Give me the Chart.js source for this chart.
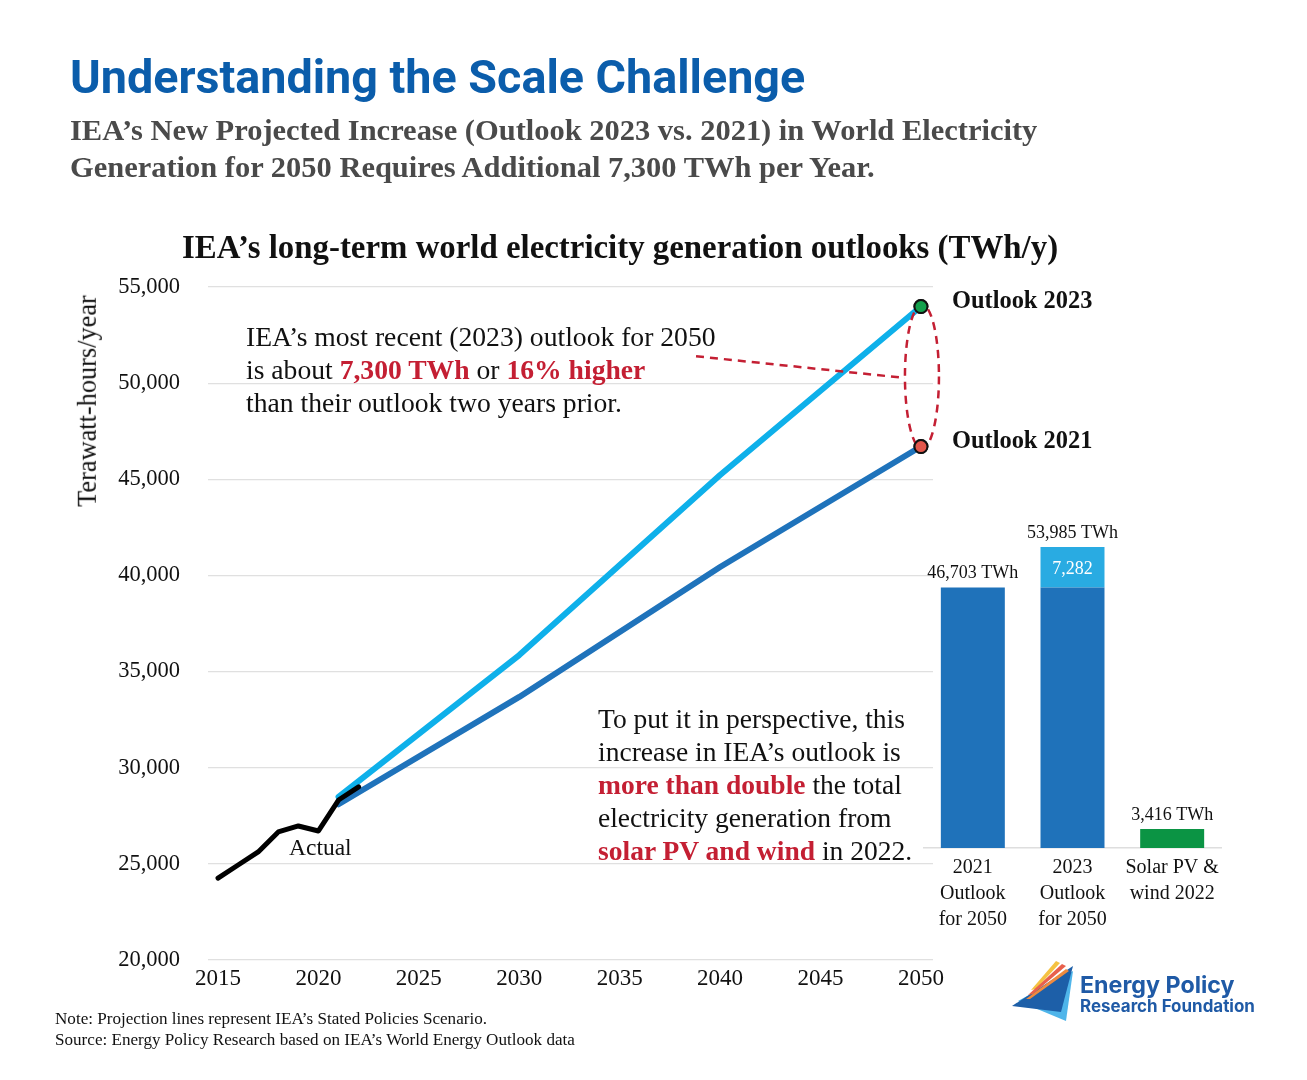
<!DOCTYPE html>
<html>
<head>
<meta charset="utf-8">
<script src="https://cdn.jsdelivr.net/npm/chart.js@4.4.0/dist/chart.umd.min.js"></script>
<style>
html,body{margin:0;padding:0;background:#fff;}
#wrap{position:relative;width:1307px;height:1080px;overflow:hidden;font-family:"Liberation Serif",serif;color:#111;}
#main{position:absolute;left:0;top:0;width:1307px;height:1080px;}
#bars{position:absolute;left:923px;top:480px;width:299px;height:470px;}
.t{position:absolute;white-space:nowrap;}
.red{color:#c41f33;font-weight:bold;}
#title{font-family:Roboto,sans-serif;font-weight:bold;color:#0b5dab;font-size:42px;line-height:50px;}
#subtitle{font-weight:bold;color:#4a4a4a;font-size:30px;line-height:37px;}
#ctitle{font-weight:bold;font-size:29px;line-height:34px;}
#ytitle{font-size:21px;line-height:24px;transform:rotate(-90deg);}
.note{font-size:25px;line-height:33px;}
.lbl{font-weight:bold;font-size:22px;line-height:26px;}
#foot{font-size:15px;line-height:21px;}
.logo{font-family:Inter,sans-serif;font-weight:bold;color:#1f5aa6;}
</style>
</head>
<body>
<div id="wrap">
  <canvas id="main" width="1307" height="1080"></canvas>
  <canvas id="bars" width="299" height="470"></canvas>

  <div class="t" id="title" data-x="70" data-cy="77" data-w="735">Understanding the Scale Challenge</div>
  <div class="t" id="subtitle" data-x="70" data-cy="130" data-w="967">IEA’s New Projected Increase (Outlook 2023 vs. 2021) in World Electricity<br>Generation for 2050 Requires Additional 7,300 TWh per Year.</div>
  <div class="t" id="ctitle" data-cx="620" data-cy="247" data-w="876">IEA’s long-term world electricity generation outlooks (TWh/y)</div>
  <div class="t" id="ytitle" data-cx="88" data-cy="401" data-w="212">Terawatt-hours/year</div>

  <div class="t note" data-x="246" data-cy="336" data-w="470">IEA’s most recent (2023) outlook for 2050<br>is about <span class="red">7,300 TWh</span> or <span class="red">16% higher</span><br>than their outlook two years prior.</div>
  <div class="t note" data-x="598" data-cy="718" data-w="314">To put it in perspective, this<br>increase in IEA’s outlook is<br><span class="red">more than double</span> the total<br>electricity generation from<br><span class="red">solar PV and wind</span> in 2022.</div>
  <div class="t" style="font-size:22px;line-height:26px" data-x="289" data-cy="847" data-w="63">Actual</div>
  <div class="t lbl" data-x="952" data-cy="300" data-w="141">Outlook 2023</div>
  <div class="t lbl" data-x="952" data-cy="440" data-w="141">Outlook 2021</div>

  <div class="t" id="foot" data-x="55" data-cy="1018" data-w="520">Note: Projection lines represent IEA’s Stated Policies Scenario.<br>Source: Energy Policy Research based on IEA’s World Energy Outlook data</div>

  <svg style="position:absolute;left:0;top:0" width="1307" height="1080">
    <polygon points="1018,1001 1073,971 1066,1021" fill="#4fb5ea"/>
    <polygon points="1012,1006 1073,966 1061,1012" fill="#1d5fa8"/>
    <polygon points="1031,990 1056,961 1060,963 1036,989" fill="#f5c242"/>
    <polygon points="1028,995 1062,964 1066,966 1033,994" fill="#e8604c"/>
    <polygon points="1026,999 1066,969 1069,971 1030,999" fill="#ef8a3e"/>
  </svg>
  <div class="t logo" style="font-size:21px;line-height:24px" data-x="1080" data-cy="985" data-w="155">Energy Policy</div>
  <div class="t logo" style="font-size:16px;line-height:20px" data-x="1080" data-cy="1006" data-w="175">Research Foundation</div>
</div>

<script>
// actual generation
const actualYears = [2015, 2016, 2017, 2018, 2019, 2020, 2021, 2022];
const actualTWh = [24260, 24940, 25620, 26660, 26970, 26710, 28320, 29000];

// IEA outlooks (Stated Policies)
const outlookYears = [2021, 2030, 2040, 2050];
const outlook2023 = [28480, 35860, 45220, 53985];
const outlook2021 = [28100, 33680, 40440, 46703];

const xTicks = [2015, 2020, 2025, 2030, 2035, 2040, 2045, 2050];
const yTicks = [20000, 25000, 30000, 35000, 40000, 45000, 50000, 55000];

// bar panel
const barLabels = [['2021', 'Outlook', 'for 2050'], ['2023', 'Outlook', 'for 2050'], ['Solar PV &', 'wind 2022']];
const barBase = [46703, 46703, 3416];
const barExtra = [0, 7282, 0];
const barTotals = [46703, 53985, 3416];

const RED = '#c41f33';
const serif = '"Liberation Serif", serif';
const fmt = v => v.toLocaleString('en-US');
const pts = (xs, ys) => xs.map((x, i) => ({x: x, y: ys[i]}));
const lastOnly = (r) => (c) => c.dataIndex === outlookYears.length - 1 ? r : 0;

// ellipse + leader line round the 2050 end points
const gapMark = {
  id: 'gapMark',
  afterDatasetsDraw(chart) {
    const {ctx, scales: {x, y}} = chart;
    const cx = x.getPixelForValue(2050) + 1;
    const yTop = y.getPixelForValue(outlook2023[3]);
    const yBot = y.getPixelForValue(outlook2021[3]);
    const cy = (yTop + yBot) / 2, ry = (yBot - yTop) / 2 + 2, rx = 17;
    ctx.save();
    ctx.strokeStyle = RED;
    ctx.lineWidth = 2.5;
    ctx.setLineDash([8, 6]);
    ctx.beginPath();
    ctx.ellipse(cx, cy, rx, ry, 0, 0, Math.PI * 2);
    ctx.stroke();
    ctx.beginPath();
    ctx.moveTo(x.getPixelForValue(2038.8), y.getPixelForValue(51400));
    ctx.lineTo(cx - rx, y.getPixelForValue(50270));
    ctx.stroke();
    ctx.restore();
    // redraw the end markers above the dashes
    [0, 1].forEach(k => {
      const ds = chart.getDatasetMeta(k + 1);
      ds.data[outlookYears.length - 1].draw(ctx);
    });
  }
};

new Chart(document.getElementById('main'), {
  type: 'line',
  data: {
    datasets: [
      {data: pts(actualYears, actualTWh), borderColor: '#000', borderWidth: 5, pointRadius: 0},
      {data: pts(outlookYears, outlook2023), borderColor: '#0eb0ea', borderWidth: 6,
        pointRadius: lastOnly(6.5), pointBackgroundColor: '#14a04c', pointBorderColor: '#111', pointBorderWidth: 2},
      {data: pts(outlookYears, outlook2021), borderColor: '#1f73bb', borderWidth: 6,
        pointRadius: lastOnly(6.5), pointBackgroundColor: '#e2574c', pointBorderColor: '#111', pointBorderWidth: 2}
    ]
  },
  options: {
    responsive: false,
    animation: false,
    devicePixelRatio: 1,
    elements: {line: {borderCapStyle: 'round', borderJoinStyle: 'round', tension: 0}, point: {hoverRadius: 0}},
    layout: {padding: {left: 0, top: 287, right: 374, bottom: 80}},
    plugins: {legend: {display: false}, tooltip: {enabled: false}},
    scales: {
      x: {
        type: 'linear', min: 2014.5, max: 2050.6,
        afterBuildTicks: s => { s.ticks = xTicks.map(v => ({value: v})); },
        afterFit: s => { s.height = 40; },
        grid: {display: false},
        border: {display: false},
        ticks: {padding: -3, maxRotation: 0, autoSkip: false, color: '#111',
          font: {family: serif, size: 23}, callback: v => String(v)}
      },
      y: {
        min: 20000, max: 55000,
        afterBuildTicks: s => { s.ticks = yTicks.map(v => ({value: v})); },
        afterFit: s => { s.width = 208; },
        grid: {color: '#e0e0e0', lineWidth: 1.2, drawTicks: false},
        border: {display: false},
        ticks: {padding: 28, color: '#111', font: {family: serif, size: 22.5}, callback: v => fmt(v)}
      }
    }
  },
  plugins: [gapMark]
});

const barText = {
  id: 'barText',
  afterDatasetsDraw(chart) {
    const {ctx, scales: {y}} = chart;
    const base = chart.getDatasetMeta(0), extra = chart.getDatasetMeta(1);
    ctx.save();
    ctx.font = '18px ' + serif;
    ctx.textAlign = 'center';
    ctx.textBaseline = 'middle';
    ctx.fillStyle = '#111';
    barTotals.forEach((v, i) => {
      ctx.fillText(fmt(v) + ' TWh', base.data[i].x, y.getPixelForValue(v) - 14);
    });
    ctx.fillStyle = '#fff';
    barExtra.forEach((v, i) => {
      if (!v) return;
      const el = extra.data[i];
      ctx.fillText(fmt(v), el.x, (el.y + el.base) / 2 + 2);
    });
    ctx.restore();
  }
};

new Chart(document.getElementById('bars'), {
  type: 'bar',
  data: {
    labels: barLabels,
    datasets: [
      {data: barBase, backgroundColor: ['#1f72ba', '#1f72ba', '#0b9444']},
      {data: barExtra, backgroundColor: '#29abe2'}
    ]
  },
  options: {
    responsive: false,
    animation: false,
    devicePixelRatio: 1,
    layout: {padding: {left: 0, right: 0, top: 33.4, bottom: 12}},
    plugins: {legend: {display: false}, tooltip: {enabled: false}},
    datasets: {bar: {categoryPercentage: 1, barPercentage: 0.642}},
    scales: {
      x: {
        stacked: true,
        afterFit: s => { s.height = 90; },
        grid: {display: false},
        border: {display: true, color: '#dedede', width: 1.5},
        ticks: {padding: -1, maxRotation: 0, autoSkip: false, color: '#111',
          font: {family: serif, size: 20, lineHeight: 1.3}}
      },
      y: {stacked: true, display: false, min: 0, max: 60000}
    }
  },
  plugins: [barText]
});

document.querySelectorAll('[data-w]').forEach(el => {
  const fs = parseFloat(getComputedStyle(el).fontSize);
  const lh = parseFloat(getComputedStyle(el).lineHeight);
  const k = parseFloat(el.dataset.w) / el.offsetWidth;
  el.style.fontSize = (fs * k) + 'px';
  el.style.lineHeight = lh + 'px';
  const w = el.offsetWidth;
  const left = el.dataset.cx ? parseFloat(el.dataset.cx) - w / 2 : parseFloat(el.dataset.x);
  el.style.left = left + 'px';
  el.style.top = (parseFloat(el.dataset.cy) - lh / 2) + 'px';
});
</script>
</body>
</html>
